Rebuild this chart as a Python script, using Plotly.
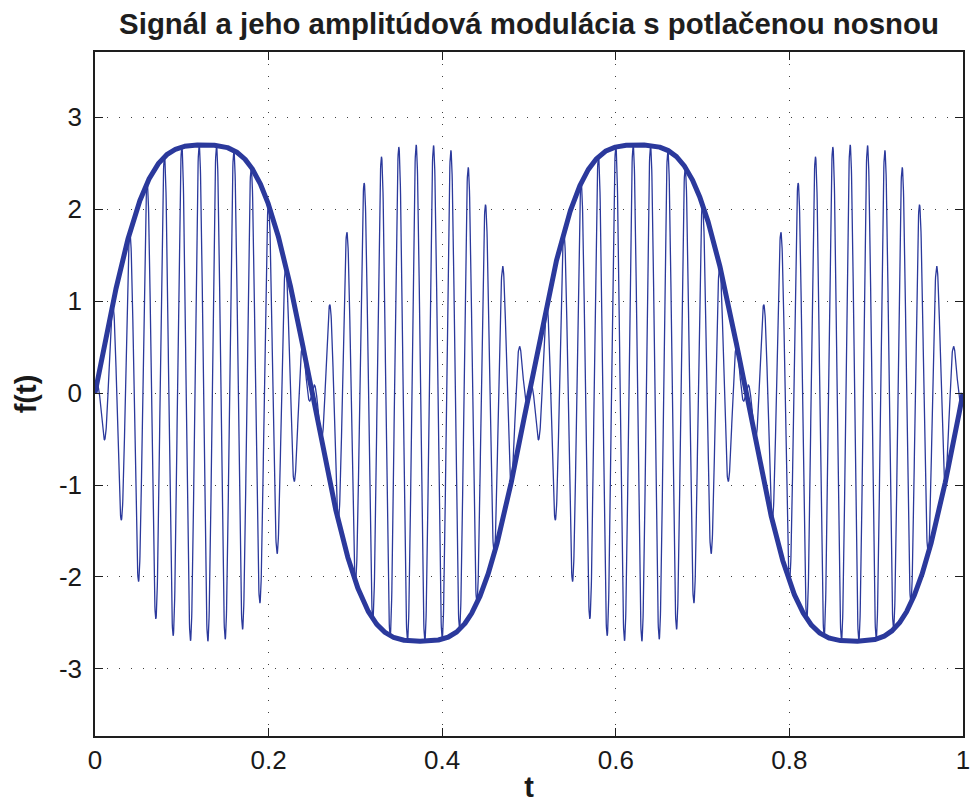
import numpy as np
import plotly.graph_objects as go

# Parameters
harmonic_orders = [1, 3]          # harmonics of the modulating signal
harmonic_amps = [3.0, 0.3]        # amplitudes (peak 3 - 0.3 = 2.7)
signal_freq = [2.0]               # Hz, two periods over [0, 1]
carrier_freq = [50.0]             # Hz, suppressed carrier
t_range = [0.0, 1.0]
x_ticks = [0, 0.2, 0.4, 0.6, 0.8, 1]
x_tick_labels = ["0", "0.2", "0.4", "0.6", "0.8", "1"]
y_ticks = [-3, -2, -1, 0, 1, 2, 3]
y_tick_labels = ["-3", "-2", "-1", "0", "1", "2", "3"]

t = np.linspace(t_range[0], t_range[1], 5001)
f = sum(a * np.sin(2 * np.pi * k * signal_freq[0] * t) for k, a in zip(harmonic_orders, harmonic_amps))
am = f * np.cos(2 * np.pi * carrier_freq[0] * t)

color = "rgb(43,57,156)"
fig = go.Figure()
fig.add_trace(go.Scatter(x=t, y=am, mode="lines", line=dict(color=color, width=1.3), hoverinfo="skip"))
fig.add_trace(go.Scatter(x=t, y=f, mode="lines", line=dict(color=color, width=5), hoverinfo="skip"))

axis_common = dict(
    showline=True, linecolor="rgb(30,30,30)", linewidth=1.5, mirror="ticks",
    ticks="inside", ticklen=8, tickwidth=1, tickcolor="rgb(30,30,30)",
    showgrid=True, gridcolor="rgba(0,0,0,0.75)", griddash="1px,11px", gridwidth=1,
    zeroline=False, automargin=False,
    tickfont=dict(family="Liberation Sans, Arial", size=26, color="rgb(25,25,25)"),
)
fig.update_layout(
    width=973, height=803,
    margin=dict(l=95, r=10, t=52, b=67),
    paper_bgcolor="white", plot_bgcolor="white",
    showlegend=False,
    title=dict(text="<b>Signál a jeho amplitúdová modulácia s potlačenou nosnou</b>",
               xref="paper", x=0.5, xanchor="center", y=1 - 24 / 803, yanchor="middle",
               font=dict(family="Liberation Sans, Arial", size=29.4, color="rgb(30,30,30)")),
    xaxis=dict(range=t_range, tickvals=x_ticks, ticktext=x_tick_labels,
               title=dict(text="<b>t</b>", standoff=6,
                          font=dict(family="Liberation Sans, Arial", size=29, color="rgb(25,25,25)")),
               **axis_common),
    yaxis=dict(range=[-3.73, 3.71], tickvals=y_ticks, ticktext=y_tick_labels,
               ticklabelstandoff=6,
               title=dict(text="<b>f(t)</b>", standoff=14,
                          font=dict(family="Liberation Sans, Arial", size=29, color="rgb(25,25,25)")),
               **axis_common),
)
fig.write_html("out.html")
